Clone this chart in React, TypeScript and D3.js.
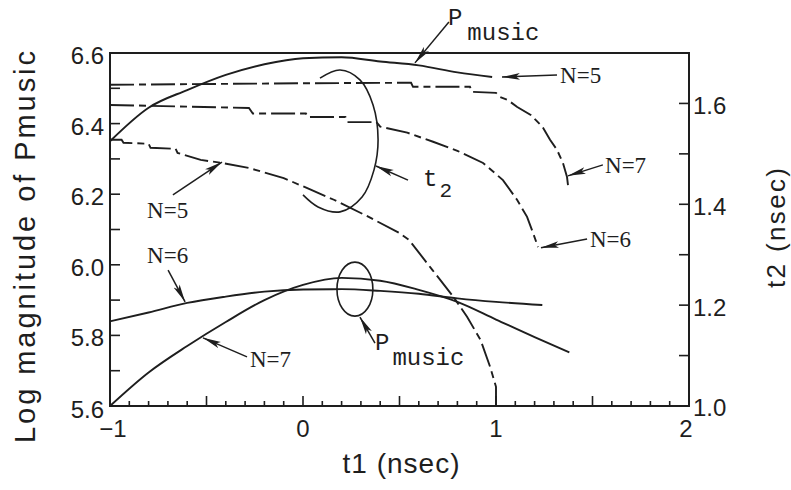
import React from 'react';
import * as d3 from 'd3';

// t1 (nsec) sample points and log magnitude of Pmusic for each N
const pmN5T1 = [-1, -0.8, -0.6, -0.4, -0.2, 0, 0.2, 0.4, 0.6, 0.8, 0.98];
const pmN5 = [6.35, 6.445, 6.495, 6.538, 6.568, 6.585, 6.588, 6.576, 6.565, 6.545, 6.532];

const pmN6T1 = [-1, -0.8, -0.6, -0.4, -0.2, 0, 0.2, 0.4, 0.6, 0.8, 1.0, 1.24];
const pmN6 = [5.84, 5.865, 5.892, 5.91, 5.924, 5.93, 5.931, 5.926, 5.918, 5.905, 5.895, 5.886];

const pmN7T1 = [-1, -0.8, -0.6, -0.4, -0.2, 0, 0.2, 0.4, 0.6, 0.8, 1.0, 1.2, 1.38];
const pmN7 = [5.6, 5.695, 5.77, 5.838, 5.9, 5.943, 5.963, 5.955, 5.929, 5.895, 5.845, 5.795, 5.752];

// t2 (nsec) curves, right axis
const t2N7T1 = [-1, 0, 0.56, 0.57, 0.865, 0.876, 1.0, 1.02, 1.06, 1.11, 1.18, 1.24, 1.28, 1.316, 1.347, 1.368, 1.373];
const t2N7 = [1.637, 1.64, 1.641, 1.633, 1.633, 1.623, 1.621, 1.613, 1.607, 1.593, 1.577, 1.554, 1.528, 1.508, 1.482, 1.454, 1.438];

const t2N6T1 = [-1, -0.28, -0.26, 0.015, 0.025, 0.22, 0.23, 0.38, 0.4, 0.54, 0.674, 0.8, 0.933, 1.036, 1.109, 1.161, 1.192, 1.218];
const t2N6 = [1.597, 1.591, 1.58, 1.58, 1.573, 1.573, 1.563, 1.563, 1.554, 1.542, 1.524, 1.506, 1.482, 1.448, 1.409, 1.375, 1.343, 1.315];

const t2N5T1 = [-1, -0.94, -0.93, -0.8, -0.79, -0.66, -0.65, -0.53, -0.42, -0.28, -0.1, 0.04, 0.16, 0.33, 0.5, 0.55, 0.67, 0.78, 0.85, 0.92, 0.97, 1.0, 1.0];
const t2N5 = [1.528, 1.528, 1.522, 1.52, 1.512, 1.51, 1.502, 1.488, 1.482, 1.472, 1.452, 1.429, 1.409, 1.377, 1.343, 1.329, 1.27, 1.216, 1.177, 1.131, 1.077, 1.038, 1.0];

const xTicks = [-1, 0, 1, 2];
const xTickLabels = ['\u22121', '0', '1', '2'];
const leftTicks = [5.6, 5.8, 6.0, 6.2, 6.4, 6.6];
const leftTickLabels = ['5.6', '5.8', '6.0', '6.2', '6.4', '6.6'];
const rightTicks = [1.0, 1.2, 1.4, 1.6];
const rightTickLabels = ['1.0', '1.2', '1.4', '1.6'];

// annotations, in (t1, left-axis value) units
const bigLoop: [number, number][] = [
  [0.088, 6.529], [0.192, 6.552], [0.295, 6.524], [0.363, 6.453], [0.389, 6.354],
  [0.368, 6.269], [0.306, 6.192], [0.192, 6.15], [0.078, 6.164], [0.0, 6.198],
];
const smallLoop = { cx: 0.269, cy: 5.931, rx: 0.093, ry: 0.0765 };

const arrows: { from: [number, number]; to: [number, number] }[] = [
  { from: [0.756, 6.688], to: [0.58, 6.572] },
  { from: [1.316, 6.538], to: [1.031, 6.532] },
  { from: [0.544, 6.24], to: [0.378, 6.28] },
  { from: [1.554, 6.283], to: [1.373, 6.252] },
  { from: [1.472, 6.073], to: [1.233, 6.048] },
  { from: [-0.674, 6.198], to: [-0.42, 6.291] },
  { from: [-0.699, 5.985], to: [-0.611, 5.895] },
  { from: [-0.29, 5.739], to: [-0.518, 5.793] },
  { from: [0.373, 5.778], to: [0.295, 5.852] },
];

const nLabels: { text: string; at: [number, number] }[] = [
  { text: 'N=5', at: [1.332, 6.515] },
  { text: 'N=7', at: [1.565, 6.26] },
  { text: 'N=6', at: [1.487, 6.05] },
  { text: 'N=5', at: [-0.808, 6.133] },
  { text: 'N=6', at: [-0.808, 6.005] },
  { text: 'N=7', at: [-0.275, 5.71] },
];
const pmusicLabels: [number, number][] = [[0.751, 6.679], [0.373, 5.759]];
const t2Label: [number, number] = [0.622, 6.223];

const W = 791, H = 490;
const left = 110, right = 689, top = 53, bottom = 406;
const ink = '#1e1e1e';
const sans = '"Liberation Sans", Arial, Helvetica, sans-serif';
const serif = '"Liberation Serif", "Times New Roman", serif';
const mono = '"Liberation Mono", "Courier New", monospace';

export default function App() {
  const x = d3.scaleLinear().domain([-1, 2]).range([left, right]);
  const yL = d3.scaleLinear().domain([5.6, 6.6]).range([bottom, top]);
  const yR = d3.scaleLinear().domain([1.0, 1.7]).range([bottom, top]);

  const path = (ts: number[], vs: number[], y: d3.ScaleLinear<number, number>, curve: d3.CurveFactory) =>
    d3.line<number>().x((_, i) => x(ts[i])).y(v => y(v)).curve(curve)(vs) || '';

  const loopPath = d3.line<[number, number]>().x(d => x(d[0])).y(d => yL(d[1])).curve(d3.curveCatmullRom)(bigLoop) || '';

  const minorX = d3.range(-10, 21).map(i => i / 10);
  const minorL = d3.range(56, 67).map(i => i / 10);
  const minorR = d3.range(10, 18).map(i => i / 10);

  const solid = { fill: 'none', stroke: ink, strokeWidth: 1.9 };
  const dashed = { fill: 'none', stroke: ink, strokeWidth: 1.9, strokeDasharray: '24,5,7,5' };

  return (
    <svg width={W} height={H} style={{ position: 'absolute', left: 0, top: 0, background: '#fff' }}>
      <defs>
        <marker id="head" viewBox="0 -4 18 8" refX={18} refY={0} markerWidth={18} markerHeight={8}
          markerUnits="userSpaceOnUse" orient="auto">
          <path d="M0,-3.4 L18,0 L0,3.4 L4,0 Z" fill={ink} />
        </marker>
      </defs>

      {/* frame */}
      <path d={`M${left},${bottom} V${top} H${right} V${bottom} Z`} fill="none" stroke={ink} strokeWidth={2} />

      {/* ticks */}
      {minorX.map(t => {
        const major = Math.abs(t * 2 - Math.round(t * 2)) < 1e-6;
        return <line key={'x' + t} x1={x(t)} x2={x(t)} y1={bottom} y2={bottom - (major ? 10 : 5)} stroke={ink} strokeWidth={1.6} />;
      })}
      {minorL.map(v => <line key={'l' + v} x1={left} x2={left + 10} y1={yL(v)} y2={yL(v)} stroke={ink} strokeWidth={1.6} />)}
      {minorR.map(v => <line key={'r' + v} x1={right} x2={right - 10} y1={yR(v)} y2={yR(v)} stroke={ink} strokeWidth={1.6} />)}

      {/* tick labels */}
      <g fontFamily={sans} fontSize={24} fill={ink}>
        {xTicks.map((t, i) => (
          <text key={'xt' + t} x={x(t) + (i === 0 ? 3 : i === 3 ? -3 : 0)} y={437} textAnchor="middle">{xTickLabels[i]}</text>
        ))}
        {leftTicks.map((v, i) => (
          <text key={'lt' + v} x={left - 6} y={yL(v) + (i === 0 ? 12 : 11)} textAnchor="end">{leftTickLabels[i]}</text>
        ))}
        {rightTicks.map((v, i) => (
          <text key={'rt' + v} x={right + 4} y={yR(v) + (i === 0 ? 10 : 11)} textAnchor="start">{rightTickLabels[i]}</text>
        ))}
      </g>

      {/* axis titles */}
      <text x={401} y={473} textAnchor="middle" fontFamily={sans} fontSize={28} fill={ink}
        textLength={117} lengthAdjust="spacing">t1 (nsec)</text>
      <text transform="translate(35,247) rotate(-90)" textAnchor="middle" fontFamily={sans} fontSize={29} fill={ink}
        textLength={392} lengthAdjust="spacing">Log magnitude of Pmusic</text>
      <text transform="translate(785,228) rotate(-90)" textAnchor="middle" fontFamily={sans} fontSize={26} fill={ink}
        textLength={120} lengthAdjust="spacing">t2 (nsec)</text>

      {/* Pmusic curves */}
      <path d={path(pmN5T1, pmN5, yL, d3.curveMonotoneX)} {...solid} />
      <path d={path(pmN6T1, pmN6, yL, d3.curveMonotoneX)} {...solid} />
      <path d={path(pmN7T1, pmN7, yL, d3.curveMonotoneX)} {...solid} />

      {/* t2 curves */}
      <path d={path(t2N7T1, t2N7, yR, d3.curveLinear)} {...dashed} />
      <path d={path(t2N6T1, t2N6, yR, d3.curveLinear)} {...dashed} />
      <path d={path(t2N5T1, t2N5, yR, d3.curveLinear)} {...dashed} />

      {/* grouping loops */}
      <path d={loopPath} fill="none" stroke={ink} strokeWidth={1.6} />
      <ellipse cx={x(smallLoop.cx)} cy={yL(smallLoop.cy)}
        rx={x(smallLoop.cx + smallLoop.rx) - x(smallLoop.cx)}
        ry={yL(smallLoop.cy - smallLoop.ry) - yL(smallLoop.cy)}
        fill="none" stroke={ink} strokeWidth={1.6} />

      {/* arrows */}
      {arrows.map((a, i) => (
        <line key={'a' + i} x1={x(a.from[0])} y1={yL(a.from[1])} x2={x(a.to[0])} y2={yL(a.to[1])}
          stroke={ink} strokeWidth={1.5} markerEnd="url(#head)" />
      ))}

      {/* labels */}
      <g fontFamily={serif} fontSize={23} fill={ink}>
        {nLabels.map((l, i) => (
          <text key={'n' + i} x={x(l.at[0])} y={yL(l.at[1])}>{l.text}</text>
        ))}
      </g>
      <g fontFamily={mono} fill={ink}>
        {pmusicLabels.map((p, i) => (
          <text key={'p' + i} x={x(p[0])} y={yL(p[1])} fontSize={24}>
            P<tspan dx={i === 0 ? 5 : 3} dy={15}>music</tspan>
          </text>
        ))}
        <text x={x(t2Label[0])} y={yL(t2Label[1])} fontSize={24}>
          t<tspan dx={2} dy={11} fontSize={21}>2</tspan>
        </text>
      </g>
    </svg>
  );
}
